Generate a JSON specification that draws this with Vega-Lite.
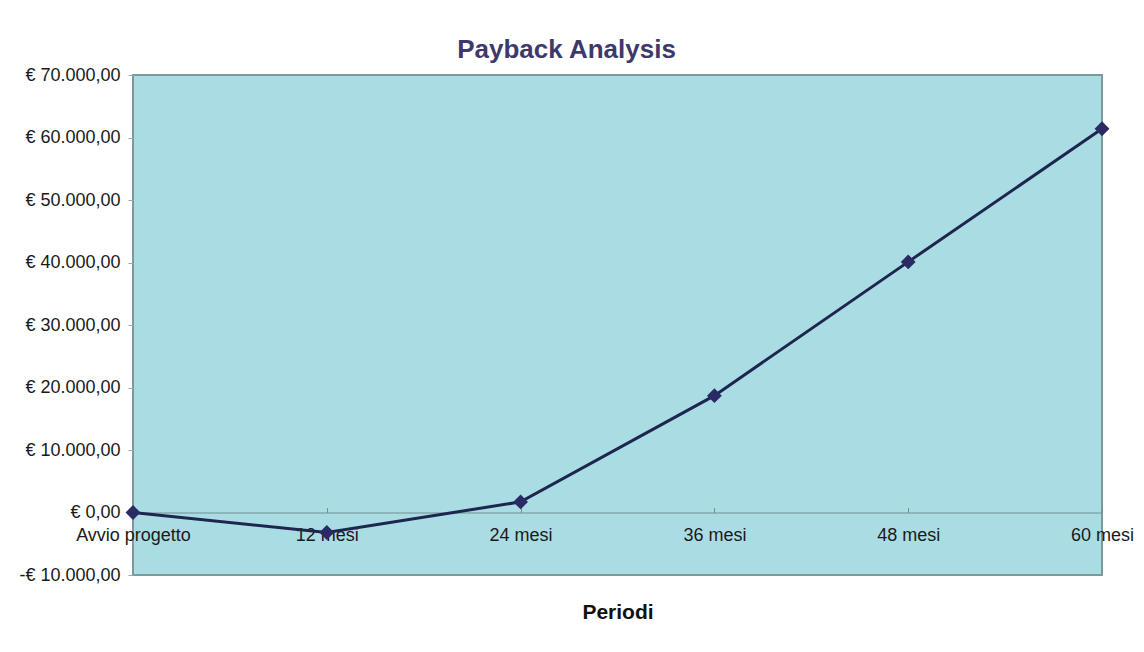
{
  "$schema": "https://vega.github.io/schema/vega-lite/v6.json",
  "autosize": "none",
  "width": 969,
  "height": 500,
  "padding": {"left": 133, "top": 75, "right": 42, "bottom": 77},
  "background": "white",
  "title": {
    "text": "Payback Analysis",
    "font": "Liberation Sans",
    "fontSize": 26,
    "fontWeight": "bold",
    "color": "#3d3a6b",
    "anchor": "middle",
    "baseline": "alphabetic",
    "offset": 18,
    "dy": 36,
    "dx": -51
  },
  "config": {
    "locale": {
      "number": {"decimal": ",", "thousands": ".", "grouping": [3], "currency": ["€ ", ""], "minus": "-"}
    },
    "view": {"fill": "#aadde3", "stroke": "#7a9a9c", "strokeWidth": 2},
    "font": "Liberation Sans"
  },
  "data": {
    "values": [
      {"periodo": "Avvio progetto", "valore": 0},
      {"periodo": "12 mesi", "valore": -3200},
      {"periodo": "24 mesi", "valore": 1700},
      {"periodo": "36 mesi", "valore": 18700},
      {"periodo": "48 mesi", "valore": 40100},
      {"periodo": "60 mesi", "valore": 61400}
    ]
  },
  "encoding": {
    "x": {
      "field": "periodo",
      "type": "ordinal",
      "sort": null,
      "scale": {"type": "point", "padding": 0},
      "axis": {
        "title": "Periodi",
        "titleFont": "Liberation Sans",
        "titleFontSize": 21,
        "titleFontWeight": "bold",
        "titleColor": "#111111",
        "titleBaseline": "alphabetic",
        "titlePadding": 74,
        "offset": -62.5,
        "domainColor": "#6f8f91",
        "domainWidth": 1,
        "tickColor": "#6f8f91",
        "tickSize": -5,
        "labelAngle": 0,
        "labelFontSize": 18,
        "labelColor": "#1a1a1a",
        "labelBaseline": "alphabetic",
        "labelPadding": 33,
        "labelFlush": false,
        "labelOverlap": false
      }
    },
    "y": {
      "field": "valore",
      "type": "quantitative",
      "scale": {"domain": [-10000, 70000], "nice": false, "zero": false},
      "axis": {
        "title": null,
        "values": [-10000, 0, 10000, 20000, 30000, 40000, 50000, 60000, 70000],
        "format": "$,.2f",
        "grid": false,
        "domain": false,
        "tickColor": "#9aa9aa",
        "tickSize": 5,
        "labelFontSize": 18,
        "labelColor": "#1a1a1a",
        "labelPadding": 8
      }
    }
  },
  "layer": [
    {"mark": {"type": "line", "color": "#1e2650", "strokeWidth": 3}},
    {"mark": {"type": "point", "shape": "diamond", "filled": true, "size": 220, "color": "#2a2a64", "opacity": 1}}
  ]
}
